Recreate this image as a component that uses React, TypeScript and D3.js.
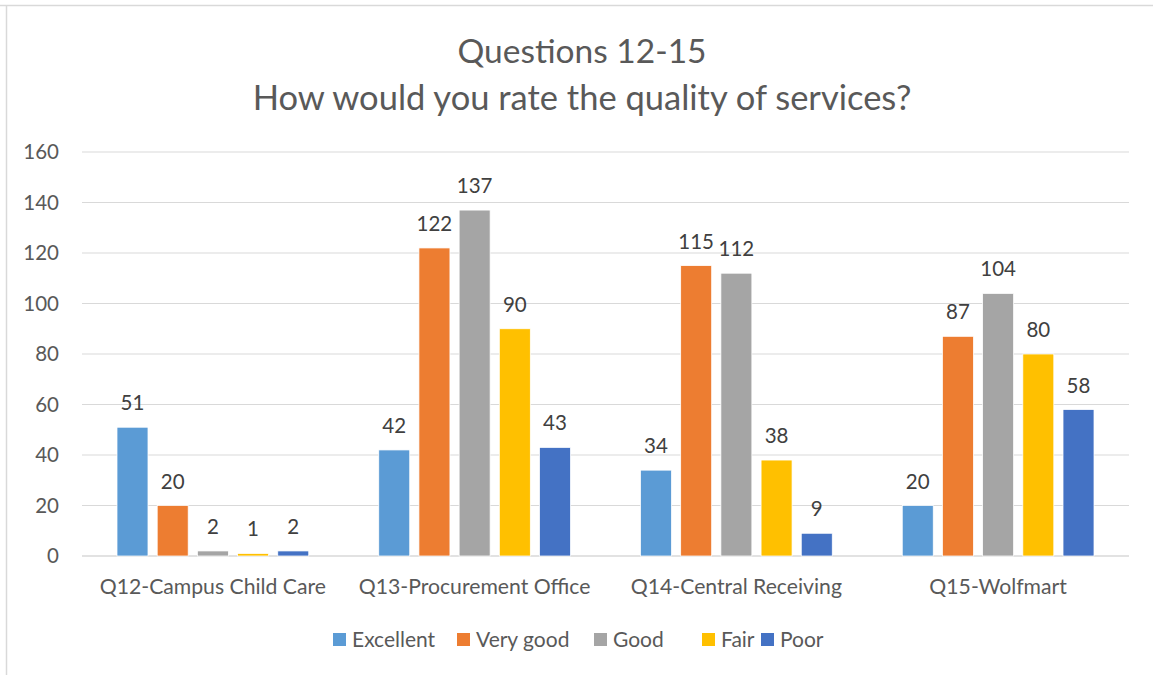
import React from "react";
import * as d3 from "d3";

const categories = [
  "Q12-Campus Child Care",
  "Q13-Procurement Office",
  "Q14-Central Receiving",
  "Q15-Wolfmart",
];
const seriesNames = ["Excellent", "Very good", "Good", "Fair", "Poor"];
const seriesColors = ["#5B9BD5", "#ED7D31", "#A5A5A5", "#FFC000", "#4472C4"];
const excellent = [51, 42, 34, 20];
const veryGood = [20, 122, 115, 87];
const good = [2, 137, 112, 104];
const fair = [1, 90, 38, 80];
const poor = [2, 43, 9, 58];
const seriesValues = [excellent, veryGood, good, fair, poor];
const yTicks = [0, 20, 40, 60, 80, 100, 120, 140, 160];
const titleLines = ["Questions 12-15", "How would you rate the quality of services?"];

const W = 1153;
const H = 675;
const FONT = "Lato, 'Open Sans', sans-serif";

export default function App() {
  const left = 82;
  const right = 1129;
  const top = 152;
  const bottom = 556;

  const y = d3.scaleLinear().domain([0, 160]).range([bottom, top]);
  const x0 = d3.scaleBand<string>().domain(categories).range([left, right]).paddingInner(0).paddingOuter(0);
  const bw = x0.bandwidth();
  const x1 = d3
    .scaleBand<string>()
    .domain(seriesNames)
    .range([35, bw - 35])
    .paddingInner(0.229)
    .paddingOuter(0);

  const legendX = [333, 457, 594, 702, 761];

  return (
    <svg
      width={W}
      height={H}
      style={{ position: "absolute", left: 0, top: 0, background: "#fff" }}
      fontFamily={FONT}
    >
      <rect x={0} y={0} width={W} height={H} fill="#fff" />
      <line x1={0} x2={W} y1={5.5} y2={5.5} stroke="#d9d9d9" strokeWidth={1.5} />
      <line x1={6.5} x2={6.5} y1={5} y2={H} stroke="#d9d9d9" strokeWidth={1.5} />

      <text x={582} y={63} textAnchor="middle" fontSize={33.5} fill="#595959">
        {titleLines[0]}
      </text>
      <text x={582} y={110} textAnchor="middle" fontSize={34.5} fill="#595959">
        {titleLines[1]}
      </text>

      {yTicks.map((t) => (
        <g key={t}>
          <line x1={left} x2={right} y1={y(t)} y2={y(t)} stroke="#d9d9d9" strokeWidth={t === 0 ? 1.5 : 1.2} />
          <text x={59} y={y(t)} dy="0.35em" textAnchor="end" fontSize={20.5} fill="#595959">
            {t}
          </text>
        </g>
      ))}

      {categories.map((c, ci) => (
        <g key={c} transform={`translate(${x0(c)},0)`}>
          {seriesNames.map((s, si) => {
            const v = seriesValues[si][ci];
            const bx = x1(s)!;
            return (
              <g key={s}>
                <rect
                  x={bx}
                  y={y(v)}
                  width={x1.bandwidth()}
                  height={bottom - y(v)}
                  fill={seriesColors[si]}
                  stroke="#fff"
                  strokeWidth={0.75}
                />
                <text
                  x={bx + x1.bandwidth() / 2}
                  y={y(v) - 17}
                  textAnchor="middle"
                  fontSize={20.5}
                  fill="#404040"
                >
                  {v}
                </text>
              </g>
            );
          })}
          <text x={bw / 2} y={594} textAnchor="middle" fontSize={21.2} fill="#595959">
            {c}
          </text>
        </g>
      ))}

      {seriesNames.map((s, i) => (
        <g key={s}>
          <rect x={legendX[i]} y={633} width={13} height={13} fill={seriesColors[i]} />
          <text x={legendX[i] + 19} y={647} fontSize={21} fill="#595959">
            {s}
          </text>
        </g>
      ))}
    </svg>
  );
}
